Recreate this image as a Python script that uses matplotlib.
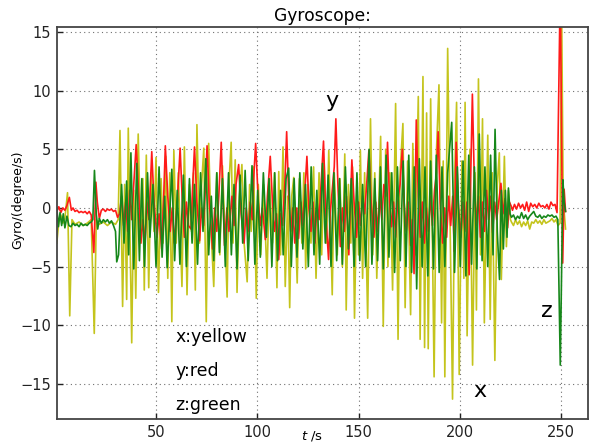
import matplotlib
matplotlib.use("Agg")
import matplotlib.pyplot as plt

# ---- data: (time [s], angular rate [degree/s]) vertices ----
gyro_x_yellow = [
    (1, -3.0), (2, -1.2), (3, -0.6), (4, -1.3), (5, -0.9), (6.3, 1.3), (7.4, -9.2), (8.5, -1.0),
    (10, -1.4), (12, -1.2), (14, -1.5), (16, -1.3), (18, -1.0), (19.5, -10.7), (20.5, -1.0),
    (22, -1.4), (24, -1.2), (26, -1.5), (28, -1.2), (30, -1.4), (31.3, -1.0),
    (32.2, 6.6), (33.5, -8.4), (34.5, 2.0), (35.5, -7.8), (36.3, 6.8), (38, -11.5), (39, 1.5),
    (40, -7.7), (41.2, 6.3), (42.5, -3.0), (43.5, 2.5), (44.2, -7.0), (45.2, 4.5), (46.4, -6.8),
    (47.5, 3.0), (49, -2.0), (50, 4.3), (51.2, -7.2), (52.5, 2.5), (53.5, -3.0), (54.8, 4.4),
    (55.8, -6.0), (56.8, 3.0), (57.8, -9.7), (58.8, 4.9), (60, -3.0), (61, 3.0), (62.8, -6.7),
    (64, 5.2), (65.3, -7.4), (66.5, 2.0), (67.5, -2.0), (68.5, 3.0), (69.4, -7.0), (70.2, 7.1),
    (71.5, -3.0), (72.5, 2.0), (73.6, 5.1), (74.8, -9.7), (76, 5.5), (77.2, -2.0), (78.5, -6.7),
    (80, 3.0), (81.5, -4.0), (82.8, 3.6), (84, -2.0), (85.1, -7.6), (86, 2.0), (87.1, 5.6),
    (88, -3.0), (89.1, 4.1), (90, -7.2), (91.2, 1.0), (92.4, 3.7), (93.5, -3.0), (95, -6.3),
    (96.2, 2.0), (97, -2.0), (98.2, 3.5), (99.5, -7.7), (100.5, 2.0), (101.7, -4.0), (103.1, 2.0),
    (104.8, -6.0), (106, 2.5), (107.5, -3.0), (108.5, 3.0), (109.7, -6.8), (110.6, 3.1),
    (111.5, -4.0), (112.7, 5.2), (113.8, -6.7), (115, 1.0), (116, -8.5), (117, 1.0), (118, 2.6),
    (119.7, -6.4), (120.8, 2.5), (122, -3.0), (123, 3.0), (123.9, -5.2), (125, 2.0), (126.5, -3.0),
    (127.8, 3.5), (129, -6.0), (130.5, 3.0), (131.8, -4.0), (133, 4.0), (134.2, -3.0), (135.3, 4.9),
    (137, -7.4), (138, 3.0), (139.5, -4.0), (140.8, 2.5), (142, -5.0), (143.2, 4.6), (143.9, -8.7),
    (145, 2.0), (146.2, -3.0), (147, 3.5), (148, -9.4), (149.2, 2.0), (150, -4.0), (150.9, 4.9),
    (152, -6.0), (153, 3.0), (154.5, -9.4), (155.9, 7.6), (157, -4.0), (158, 3.0), (159, -6.0),
    (160.9, 6.1), (162.2, -10.1), (163.4, 5.0), (164.5, -5.0), (165.5, 3.0), (166.8, -7.0),
    (168.3, 8.9), (169.5, -11.2), (170.5, 3.0), (171.9, 7.2), (173, -8.5), (174.2, 4.0),
    (175.7, -9.1), (176.8, 5.5), (178, -4.0), (179.5, 9.5), (180.4, -11.2), (181.8, 11.2),
    (182.6, -11.9), (183.6, 8.1), (184.4, -12.0), (185.6, 9.3), (187.3, -14.4), (188.5, 5.0),
    (189.7, 10.5), (191, -9.8), (191.8, 4.0), (192.6, -14.4), (194, 13.6), (196.4, -16.3),
    (197.5, 3.0), (198.4, 9.0), (199.7, -14.2), (201, 4.0), (202, -6.0), (202.6, 9.0),
    (203.6, -10.9), (205, 5.0), (206.3, -13.4), (207.5, 3.0), (208.2, -8.7), (209.2, 11.0),
    (210.2, -4.0), (211.2, 7.6), (212.1, -9.8), (213.8, 6.2), (215, -9.5), (216, 3.0),
    (217.3, -13.0), (218.5, 2.0), (219.5, 4.7), (220.5, -6.1), (222, 4.4), (223, -3.3),
    (224, 1.5), (225, -1.0), (225.5, -1.2), (226.5, -1.5), (227.5, -1.0), (228.5, -1.4),
    (229.5, -1.1), (230.5, -1.6), (231.5, -1.2), (232.5, -1.5), (233.5, -1.1), (234.5, -1.8),
    (235.5, -1.2), (236.5, -1.3), (237.5, -1.0), (238.5, -1.3), (239.5, -1.1), (240.5, -1.4),
    (241.5, -1.0), (242.5, -1.3), (243.5, -1.2), (244.5, -1.1), (245.5, -0.9), (246.5, -1.2),
    (247.5, -1.0), (248.5, -1.5), (249.5, -1.3), (250.3, 16.5), (251, 1.5), (251.6, -0.5),
    (252.2, -1.8),
]

gyro_y_red = [
    (1, -0.3), (2, 0.1), (3, -0.4), (4, 0.0), (5, -0.2), (6, 0.2), (7.2, 0.9), (8.2, -0.2),
    (9, 0.0), (10, -0.3), (11, -0.2), (12, -0.4), (13, -0.3), (14, -0.4), (15, -0.3), (16, -0.5),
    (17, -0.3), (18, -0.6), (19.3, -3.8), (20.3, 2.2), (21, 0.5), (22, -0.9), (23, -0.2),
    (24, -0.1), (25, -0.3), (26, -0.1), (27, -0.2), (28, -0.1), (29, -0.3), (30, -0.2),
    (31, -0.8), (32, -0.5),
    (33, 1.0), (34, -1.5), (35, 0.5), (36, -2.0), (37, 1.5), (38, -1.0), (39, 2.0), (40.2, 5.4),
    (41.5, 1.0), (42.5, -3.0), (43.5, -1.0), (44.5, -3.2), (45.5, 0.5), (46.5, -1.0), (47.9, 4.8),
    (49, 0.5), (50.5, -2.5), (51.5, -0.5), (52.8, -3.5), (53.7, 0.5), (54.6, 5.3), (55.8, 1.0),
    (57, -2.0), (58, 0.0), (59, -3.0), (60.5, 0.5), (61.9, 5.1), (63, 0.5), (64, -2.5), (65, 0.5),
    (66, -1.5), (67.3, -1.8), (68, 1.5), (69, 5.2), (70.2, 0.5), (71.5, -2.8), (72.5, 0.0),
    (73.5, -1.5), (74.3, 1.5), (75.2, 5.3), (76.3, 0.5), (77.9, -3.5), (79, 0.0), (80, -2.0),
    (81, 1.0), (82.2, 5.6), (83.8, -3.2), (85, 0.0), (86, -2.0), (87.5, 1.0), (88.5, -1.5),
    (89.5, 2.0), (90.8, 3.7), (92, -0.5), (93.5, -3.0), (94.5, 0.0), (95.5, -2.0), (96.5, 0.5),
    (97.5, -1.0), (98.2, 2.5), (99.2, 5.5), (100.5, 0.5), (101.5, -1.5), (102.5, 0.0), (104, -2.7),
    (105, 1.0), (106.4, 4.4), (107.5, 0.5), (108.5, -2.0), (109.5, -0.5), (110.6, -4.4),
    (111.5, -0.5), (112.5, -1.5), (113.6, 2.0), (114.5, 6.5), (115.5, 1.0), (116.5, -2.0),
    (117.5, 0.0), (118.5, -3.0), (119.5, 0.0), (120.4, -2.6), (121.5, 0.5), (122.5, -1.5),
    (123.5, 1.5), (124.5, 4.4), (125.5, 0.0), (126.5, -2.0), (127.5, 0.5), (128.5, -3.0),
    (129.5, 0.5), (130.5, -1.0), (131.5, 2.0), (132.7, 5.7), (133.6, 0.5), (134.4, -2.2),
    (135.2, -4.4), (136, -0.5), (137, 1.5), (138, 3.5), (138.8, 7.6), (139.8, 2.0), (141, -3.3),
    (142, 0.0), (143, -2.0), (144, 1.0), (145.2, -4.0), (146, 0.5), (146.7, 4.1), (147.8, 0.5),
    (149, -2.5), (150, 0.5), (151, -1.5), (152, 1.0), (153, -0.5), (154.2, 2.5), (155.1, 4.9),
    (156.2, 0.5), (157.6, -2.5), (158.5, 0.5), (159.5, -2.0), (160.5, 1.0), (161.5, -1.0),
    (162.5, 2.0), (163.5, 1.0), (164.3, 5.6), (165.3, 0.5), (166.3, -1.6), (167.3, 0.5),
    (168.3, -2.5), (169.3, 0.5), (170.5, 2.0), (171.6, 5.0), (172.5, 0.5), (173.5, -2.0),
    (174.5, 0.5), (175.7, -3.2), (176.5, -1.0), (177.4, -5.6), (178.5, 7.5), (179.5, 1.0),
    (180.5, -2.5), (181.5, 0.5), (182.5, -3.0), (183.5, 0.0), (184.5, -2.0), (185.5, 1.0),
    (186.5, -1.5), (187.5, 1.5), (188.5, 3.0), (189.3, 6.5), (190.3, 0.5), (191.5, -3.0),
    (192.5, 0.0), (193.5, -2.5), (194.5, 1.0), (195.5, -1.5), (196.5, 1.0), (197.2, -3.7),
    (198.2, 5.6), (199.2, 0.5), (200.5, -2.5), (201.5, 0.5), (202.5, -2.0), (203.5, 0.5),
    (204.6, -5.7), (205.3, 2.0), (206.2, 9.7), (207.2, 2.0), (208.2, -1.5), (209.2, 1.0),
    (210.2, -2.5), (211.2, 0.5), (212.2, -2.0), (213.2, 1.5), (214.2, -1.0), (215.2, 1.0),
    (216.2, -2.1), (217.2, 0.5), (218.2, -1.0), (219.2, 0.5), (220.3, 2.1), (221.3, -0.5),
    (222.3, 0.8), (223.6, -1.7), (224.5, 0.5), (225.5, 0.1),
    (226, -0.2), (227, 0.3), (228, -0.1), (229, 0.4), (230, 0.0), (231, 0.3), (232, -0.2),
    (233, 0.5), (234, -0.3), (235, 0.4), (236, 0.1), (237, 0.3), (238, 0.0), (239, 0.4),
    (240, 0.1), (241, 0.2), (242, 0.0), (243, 0.3), (244, -0.1), (245, 0.5), (246, 0.2),
    (247, 0.3), (248, -0.4), (249.6, 19.0), (250.8, -4.7), (251.5, 1.6), (252.2, -0.3),
]

gyro_z_green = [
    (1, 0.0), (1.8, -1.6), (2.6, -0.4), (3.4, -1.5), (4.2, -0.5), (5, -1.7), (6, -0.7),
    (7, -1.5), (8, -1.6), (9, -1.3), (10, -1.5), (11, -1.4), (12, -1.6), (13, -1.3), (14, -1.5),
    (15, -1.4), (16, -1.5), (17, -1.3), (18, -1.2), (18.8, -1.0), (19.6, 3.2), (20.5, -0.5),
    (21.2, -1.8), (22, -0.9), (23, -1.3), (24, -1.0), (25, -1.2), (26, -1.0), (27, -1.3),
    (28, -1.1), (29, -1.5), (30, -2.0), (30.6, -4.6), (31.5, -4.0), (32.2, -1.0),
    (33.0, 2.0), (34.2, -3.0), (35.5, 2.3), (36.5, -4.0), (37.6, 4.7), (39.0, -5.2), (40.5, 3.8),
    (41.8, -4.5), (43.0, 2.5), (44.3, -5.0), (45.8, 3.0), (47.0, -2.5), (48.5, 2.0), (50.0, -5.0),
    (51.5, 3.5), (53.0, -4.2), (54.3, 1.0), (55.5, -5.1), (57.8, 3.3), (59.2, -4.5), (60.5, 1.5),
    (61.8, -4.8), (63.5, 2.8), (65.0, -5.0), (66.5, 2.5), (67.8, -3.0), (69.0, 2.0), (70.5, -4.8),
    (72.0, 3.0), (73.2, -2.0), (74.6, 4.2), (76.0, -4.0), (77.3, 1.0), (78.5, -4.5), (80.0, 3.0),
    (81.3, -3.8), (82.8, 2.5), (84.2, -5.0), (85.8, 3.0), (87.2, -4.0), (88.5, 2.0), (90.0, -5.2),
    (91.5, 2.8), (92.8, -3.0), (94.0, 3.2), (95.5, -4.5), (97.4, 3.6), (98.8, -4.8), (100.2, 1.5),
    (101.5, -4.2), (103.0, 3.0), (104.5, -2.5), (105.8, 2.5), (107.2, -5.0), (108.6, 3.0),
    (110.0, -4.5), (111.5, 1.5), (112.8, -4.0), (114.2, 2.5), (115.5, 3.4), (116.8, -5.0),
    (118.2, 2.5), (119.6, -4.2), (121.0, 3.0), (122.5, -3.5), (123.8, 2.0), (125.2, -5.0),
    (126.6, 3.5), (128.0, -4.0), (129.4, 1.5), (130.8, -4.8), (132.2, 3.8), (133.6, -3.0),
    (135.0, 2.8), (136.4, -5.0), (137.8, 3.0), (139.2, -4.5), (140.6, 2.5), (142.0, -4.8),
    (143.5, 3.5), (145.0, -3.5), (146.4, 2.5), (147.8, -5.0), (149.2, 3.0), (150.6, -4.5),
    (152.0, 2.0), (153.5, -5.0), (155.2, 5.0), (156.6, -4.8), (158.0, 2.5), (159.4, -4.5),
    (160.8, 3.5), (162.2, -5.2), (163.6, 4.5), (165.0, -4.2), (166.4, 3.0), (167.8, -5.5),
    (169.2, 3.5), (170.6, -4.5), (172.0, 4.0), (173.4, -5.0), (174.8, 4.5), (176.2, -5.5),
    (177.5, 3.5), (178.7, -6.9), (180.0, 4.2), (181.4, -5.0), (182.8, 3.5), (184.2, -5.8),
    (185.6, 4.0), (187.0, -5.2), (188.4, 4.5), (189.8, -5.5), (191.2, 3.5), (192.6, -5.0),
    (194.0, 3.0), (196.0, 7.3), (197.4, -5.5), (198.8, 3.5), (200.2, -5.0), (201.6, 4.0),
    (203.0, -5.8), (204.4, 4.5), (205.8, -4.8), (207.2, 3.5), (208.4, -5.2), (209.6, 6.3),
    (211.0, -4.5), (212.4, 3.5), (213.8, -5.0), (215.2, 4.5), (216.4, -4.0), (217.4, 6.7),
    (218.5, -2.0), (219.6, -6.1), (220.5, 1.5), (221.5, -3.5), (222.5, 1.5), (223.3, -2.5),
    (224.0, 1.7), (224.8, -0.5),
    (225.5, -0.8), (226.5, -0.6), (227.5, -1.0), (228.5, -0.7), (229.5, -0.9), (230.5, -0.4),
    (231.5, -0.9), (232.5, -0.6), (233.5, -1.0), (234.5, -0.7), (235.5, -0.5), (236.5, -0.3),
    (237.5, -0.7), (238.5, -0.8), (239.5, -0.6), (240.5, -0.9), (241.5, -0.7), (242.5, -0.8),
    (243.5, -0.6), (244.5, -0.7), (245.5, -0.6), (246.5, -0.8), (247.5, -0.7), (248.4, -1.0),
    (249.6, -13.4), (250.9, 2.4), (251.5, 0.5), (252.2, -0.3),
]

x_ticks = [50, 100, 150, 200, 250]
y_ticks = [-15, -10, -5, 0, 5, 10, 15]
legend_lines = ["x:yellow", "y:red", "z:green"]

# ---- figure ----
plt.rcParams['font.family'] = ['DejaVu Sans']
plt.rcParams['axes.unicode_minus'] = True
fig = plt.figure(figsize=(5.93, 4.46), dpi=100)
ax = fig.add_axes([0.0961, 0.0605, 0.8955, 0.879])

series = [(gyro_x_yellow, '#c4c41c'), (gyro_y_red, '#ff1a1a'), (gyro_z_green, '#16871a')]
for pts, col in series:
    ts = [p[0] for p in pts]
    vs = [p[1] for p in pts]
    ax.plot(ts, vs, color=col, lw=1.2)

ax.set_xlim(1.1, 263.3)
ax.set_ylim(-18.0, 15.43)
ax.set_xticks(x_ticks)
ax.set_yticks(y_ticks)
ax.grid(True, linestyle=(0, (1, 3)), color='#707070', lw=0.8)
ax.tick_params(direction='in', length=4, width=1, labelsize=10.5, colors='#222222', pad=4)
for sp in ax.spines.values():
    sp.set_color('#444444')
    sp.set_linewidth(1.3)

ax.set_title("Gyroscope:", fontsize=12.3, pad=4)
ax.set_ylabel("Gyro/(degree/s)", fontsize=9)
ax.yaxis.set_label_coords(-0.062, 0.56)
ax.set_xlabel("$t$ /s", fontsize=9.5)
ax.xaxis.set_label_coords(0.48, -0.025)

ax.text(136.9, 9.1, "y", fontsize=16, ha='center', va='center')
ax.text(210, -15.6, "x", fontsize=16, ha='center', va='center')
ax.text(243.2, -8.8, "z", fontsize=16, ha='center', va='center')
for i, s in enumerate(legend_lines):
    ax.text(59.4, -11.0 - 2.9 * i, s, fontsize=12.5, ha='left', va='center')

fig.savefig("out.png", dpi=100)
